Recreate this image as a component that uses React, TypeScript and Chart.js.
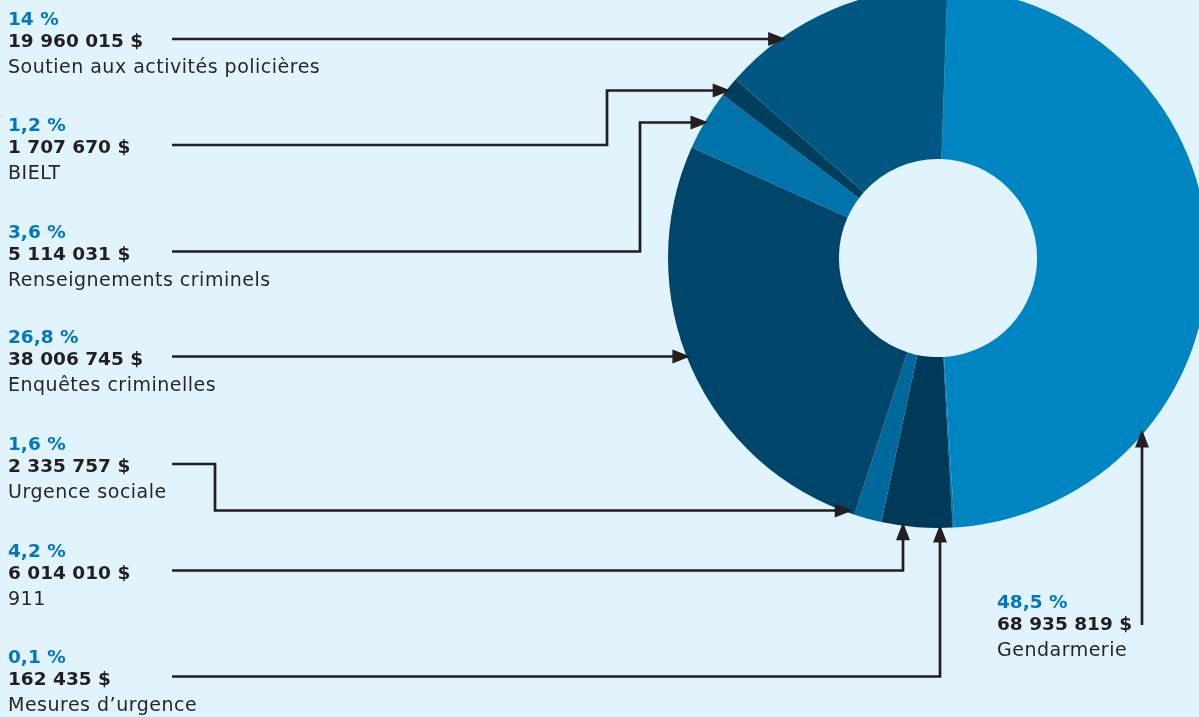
import React, { useEffect, useRef } from "react";
import { Chart, registerables } from "chart.js";

Chart.register(...registerables);

// ---- Data ----
const categories = [
  "Gendarmerie",
  "Mesures d’urgence",
  "911",
  "Urgence sociale",
  "Enquêtes criminelles",
  "Renseignements criminels",
  "BIELT",
  "Soutien aux activités policières",
];
const amounts = [68935819, 162435, 6014010, 2335757, 38006745, 5114031, 1707670, 19960015];
const percentLabels = ["48,5 %", "0,1 %", "4,2 %", "1,6 %", "26,8 %", "3,6 %", "1,2 %", "14 %"];
const sliceColors = ["#0085c3", "#0079b4", "#003a58", "#00689b", "#00466a", "#0073aa", "#003e5e", "#005882"];

const formatAmount = (v: number) => String(v).replace(/\B(?=(\d{3})+(?!\d))/g, " ") + " $";

// ---- Layout (annotation placement, page coordinates) ----
const BG = "#e1f3fc";
const PAGE_W = 1199;
const PAGE_H = 717;
const OY = 12; // canvas is shifted up so the ring can run off the top edge
const CW = 1209;
const CH = PAGE_H + OY;
const LINE_X0 = 172;

type Callout = {
  i: number;
  tx: number;
  ly: number;
  route: "h" | "hvh" | "hv" | "v";
  ex?: number;
  ey?: number;
  sy?: number;
};

const callouts: Callout[] = [
  { i: 7, tx: 8, ly: 39, route: "h" },
  { i: 6, tx: 8, ly: 145, route: "hvh", ex: 607, ey: 90.5 },
  { i: 5, tx: 8, ly: 251.5, route: "hvh", ex: 640, ey: 122.5 },
  { i: 4, tx: 8, ly: 356.5, route: "h" },
  { i: 3, tx: 8, ly: 464, route: "hvh", ex: 215, ey: 510.5 },
  { i: 2, tx: 8, ly: 570.5, route: "hv", ex: 903 },
  { i: 1, tx: 8, ly: 676.5, route: "hv", ex: 940 },
  { i: 0, tx: 997, ly: 622, route: "v", ex: 1142, sy: 625 },
];

const INK = "#231f20";
const PCT_COLOR = "#0077c0";
const FONT = "'DejaVu Sans', 'Noto Sans', sans-serif";

function drawArrow(ctx: CanvasRenderingContext2D, pts: [number, number][]) {
  const n = pts.length;
  const [tx, ty] = pts[n - 1];
  const [px, py] = pts[n - 2];
  const len = Math.hypot(tx - px, ty - py) || 1;
  const ux = (tx - px) / len;
  const uy = (ty - py) / len;
  const AL = 18;
  const AW = 7;
  ctx.beginPath();
  ctx.moveTo(pts[0][0], pts[0][1]);
  for (let k = 1; k < n - 1; k++) ctx.lineTo(pts[k][0], pts[k][1]);
  ctx.lineTo(tx - ux * (AL - 2), ty - uy * (AL - 2));
  ctx.stroke();
  const bx = tx - ux * AL;
  const by = ty - uy * AL;
  ctx.beginPath();
  ctx.moveTo(tx, ty);
  ctx.lineTo(bx - uy * AW, by + ux * AW);
  ctx.lineTo(bx + uy * AW, by - ux * AW);
  ctx.closePath();
  ctx.fill();
}

const calloutPlugin = {
  id: "callouts",
  afterDraw(chart: any) {
    const ctx: CanvasRenderingContext2D = chart.ctx;
    const arc = chart.getDatasetMeta(0).data[0] as any;
    const cx = arc.x;
    const cy = arc.y - OY;
    const r = arc.outerRadius - 3.5;
    const tipX = (y: number) => cx - Math.sqrt(Math.max(r * r - (y - cy) * (y - cy), 0));
    const tipY = (x: number) => cy + Math.sqrt(Math.max(r * r - (x - cx) * (x - cx), 0));

    ctx.save();
    ctx.translate(0, OY);
    ctx.textBaseline = "alphabetic";
    ctx.textAlign = "left";

    for (const c of callouts) {
      // texts
      (ctx as any).letterSpacing = "0px";
      ctx.fillStyle = PCT_COLOR;
      ctx.font = `bold 18.5px ${FONT}`;
      ctx.fillText(percentLabels[c.i], c.tx, c.ly - 14);
      ctx.fillStyle = INK;
      ctx.font = `bold 18.5px ${FONT}`;
      ctx.fillText(formatAmount(amounts[c.i]), c.tx, c.ly + 8);
      (ctx as any).letterSpacing = "0.5px";
      ctx.fillStyle = "#2a2627";
      ctx.font = `19px ${FONT}`;
      ctx.fillText(categories[c.i], c.tx, c.ly + 34);
      (ctx as any).letterSpacing = "0px";

      // leader
      let pts: [number, number][];
      if (c.route === "h") {
        pts = [[LINE_X0, c.ly], [tipX(c.ly), c.ly]];
      } else if (c.route === "hvh") {
        pts = [[LINE_X0, c.ly], [c.ex!, c.ly], [c.ex!, c.ey!], [tipX(c.ey!), c.ey!]];
      } else if (c.route === "hv") {
        pts = [[LINE_X0, c.ly], [c.ex!, c.ly], [c.ex!, tipY(c.ex!)]];
      } else {
        pts = [[c.ex!, c.sy!], [c.ex!, tipY(c.ex!)]];
      }
      ctx.strokeStyle = INK;
      ctx.fillStyle = INK;
      ctx.lineWidth = 2.7;
      ctx.lineJoin = "miter";
      ctx.lineCap = "butt";
      drawArrow(ctx, pts);
    }
    ctx.restore();
  },
};

export default function App() {
  const ref = useRef<HTMLCanvasElement | null>(null);

  useEffect(() => {
    document.body.style.margin = "0";
    document.body.style.background = BG;
    const canvas = ref.current;
    if (!canvas) return;
    const chart = new Chart(canvas, {
      type: "doughnut",
      data: {
        labels: categories,
        datasets: [
          {
            data: amounts,
            backgroundColor: sliceColors,
            borderWidth: 0,
            hoverOffset: 0,
            offset: 0,
          },
        ],
      },
      options: {
        animation: false,
        responsive: false,
        devicePixelRatio: window.devicePixelRatio || 1,
        events: [],
        rotation: 2,
        cutout: "36.7%",
        layout: { padding: { left: 668, top: 0, right: CW - 668 - 540, bottom: CH - 540 } },
        plugins: {
          legend: { display: false },
          tooltip: { enabled: false },
        },
      },
      plugins: [calloutPlugin],
    });
    return () => chart.destroy();
  }, []);

  return (
    <div
      style={{
        position: "relative",
        width: PAGE_W,
        height: PAGE_H,
        overflow: "hidden",
        background: BG,
      }}
    >
      <canvas
        ref={ref}
        width={CW}
        height={CH}
        style={{ position: "absolute", left: 0, top: -OY, width: CW, height: CH }}
      />
    </div>
  );
}
